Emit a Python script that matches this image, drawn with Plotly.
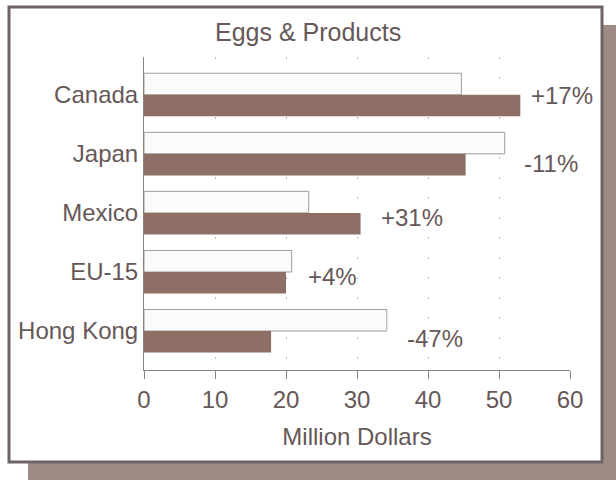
import plotly.graph_objects as go

# Export values of egg products by market, million dollars
countries = ["Canada", "Japan", "Mexico", "EU-15", "Hong Kong"]
prior_year = [44.7, 50.8, 23.2, 20.8, 34.2]
current_year = [53.0, 45.3, 30.5, 20.0, 17.9]
pct_change = ["+17%", "-11%", "+31%", "+4%", "-47%"]
x_ticks = [0, 10, 20, 30, 40, 50, 60]

# page geometry (pixels)
W, H = 616, 480
PLOT_L, PLOT_R, PLOT_T, PLOT_B = 144, 570, 57, 370

TEXT = "#665858"
BROWN = "#8e6f66"
SHADOW = "#9d8a84"
FONT = "Liberation Sans, Arial, sans-serif"


def px_x(px):
    return (px - PLOT_L) / (PLOT_R - PLOT_L)


def px_y(py):
    return (PLOT_B - py) / (PLOT_B - PLOT_T)


fig = go.Figure()
fig.add_trace(go.Bar(
    y=countries, x=prior_year, orientation="h", name="Prior year",
    marker=dict(color="#fcfbfb", line=dict(color="#a39a9a", width=1)),
    hoverinfo="x+y",
))
fig.add_trace(go.Bar(
    y=countries, x=current_year, orientation="h", name="Current year",
    marker=dict(color=BROWN, line=dict(width=0)),
    hoverinfo="x+y",
))

# percent change labels, right of the longer bar
label_xshift = [9, 17, 18, 14, 18]
label_yshift = [-1, -10, -5, -5, -7]
for i, c in enumerate(countries):
    fig.add_annotation(
        x=max(prior_year[i], current_year[i]), y=c, text=pct_change[i],
        xref="x", yref="y", xanchor="left", yanchor="middle",
        xshift=label_xshift[i], yshift=label_yshift[i], showarrow=False,
        font=dict(family=FONT, size=24, color=TEXT),
    )

# title
fig.add_annotation(
    x=px_x(308), y=px_y(32), xref="paper", yref="paper", text="Eggs & Products",
    showarrow=False, xanchor="center", yanchor="middle",
    font=dict(family=FONT, size=25, color=TEXT),
)

# drop shadow and framed white panel
fig.add_shape(type="rect", xref="paper", yref="paper", layer="below",
              x0=px_x(28), x1=px_x(W + 2), y0=px_y(25), y1=px_y(H + 2),
              fillcolor=SHADOW, line=dict(width=0))
fig.add_shape(type="rect", xref="paper", yref="paper", layer="below",
              x0=px_x(9), x1=px_x(602), y0=px_y(7), y1=px_y(462),
              fillcolor="white", line=dict(color="#6e6464", width=3))

fig.update_layout(
    width=W, height=H,
    margin=dict(l=PLOT_L, r=W - PLOT_R, t=PLOT_T, b=H - PLOT_B),
    paper_bgcolor="white", plot_bgcolor="rgba(0,0,0,0)",
    barmode="group", bargap=0.27, bargroupgap=0,
    showlegend=False,
    font=dict(family=FONT, size=24, color=TEXT),
    xaxis=dict(
        range=[0, 60], tickvals=x_ticks, ticks="outside", ticklen=8,
        tickcolor="#8a8080", showline=True, linecolor="#8a8080", linewidth=1,
        showgrid=True, gridcolor="#c4bcbc", gridwidth=1, griddash="2px,18px",
        zeroline=False, tickfont=dict(size=24, color=TEXT),
        title=dict(text="Million Dollars", font=dict(size=24, color=TEXT), standoff=16),
    ),
    yaxis=dict(
        range=[4.66, -0.64], showline=True, linecolor="#8a8080", linewidth=1,
        ticks="", showgrid=False, zeroline=False,
        tickfont=dict(size=24, color=TEXT),
    ),
)

fig.write_html("out.html")
